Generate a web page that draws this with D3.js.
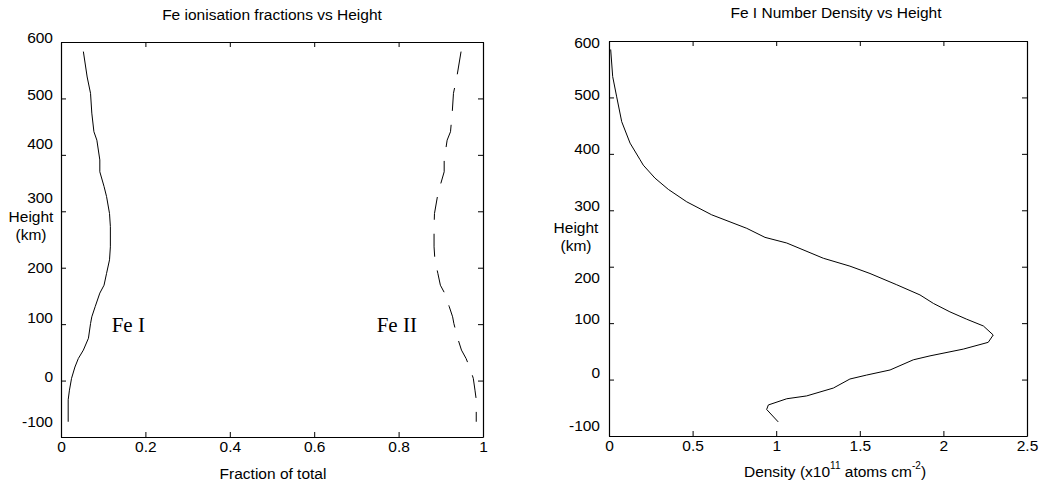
<!DOCTYPE html>
<html>
<head>
<meta charset="utf-8">
<script src="https://cdn.jsdelivr.net/npm/d3@7"></script>
<style>
  body { margin: 0; background: #fff; }
  svg { display: block; font-family: "Liberation Sans", Arial, sans-serif; }
</style>
</head>
<body>
<div id="wrapper"></div>
<script>
// heights (km) and ionisation fractions
const fracHeight = [583, 538, 509, 474, 441, 426, 391, 370, 344, 326, 296, 273, 237, 214, 190, 169, 155, 131, 113, 101, 75, 54, 39, 24, 4, -17, -34, -73];
const feIFraction = [0.053, 0.062, 0.070, 0.073, 0.078, 0.085, 0.092, 0.092, 0.102, 0.108, 0.115, 0.117, 0.117, 0.115, 0.108, 0.102, 0.092, 0.081, 0.073, 0.070, 0.065, 0.053, 0.041, 0.033, 0.025, 0.020, 0.017, 0.017];
const feIIFraction = [0.948, 0.938, 0.930, 0.927, 0.923, 0.915, 0.908, 0.908, 0.898, 0.892, 0.885, 0.884, 0.884, 0.886, 0.893, 0.899, 0.909, 0.920, 0.928, 0.931, 0.940, 0.949, 0.960, 0.968, 0.977, 0.981, 0.984, 0.984];

// Fe I number density (x10^11 atoms cm^-2) vs height
const densHeight = [585, 537, 501, 457, 419, 390, 380, 357, 337, 315, 292, 268, 252, 242, 215, 201, 188, 168, 150, 135, 120, 107, 95, 79, 66, 54, 42, 35, 17, 8, 1, -15, -29, -34, -45, -53, -75];
const densValue = [0.010, 0.022, 0.046, 0.076, 0.126, 0.185, 0.205, 0.275, 0.355, 0.465, 0.614, 0.824, 0.933, 1.063, 1.282, 1.441, 1.561, 1.721, 1.860, 1.940, 2.039, 2.139, 2.239, 2.298, 2.268, 2.119, 1.920, 1.820, 1.681, 1.541, 1.441, 1.342, 1.182, 1.063, 0.953, 0.943, 1.012];

const heightTicks = [-100, 0, 100, 200, 300, 400, 500, 600];
const fracTicks = [0, 0.2, 0.4, 0.6, 0.8, 1];
const densTicks = [0, 0.5, 1, 1.5, 2, 2.5];

const width = 1045;
const height = 486;
const fontSize = "15.5px";

const svg = d3
  .select("#wrapper")
  .append("svg")
  .attr("width", width)
  .attr("height", height);

// plain hyphen minus, like the original
const plain = (d) => String(d);

// the height labels in the original were placed by hand, not on the ticks
const drawPanel = (p) => {
  const xScale = d3.scaleLinear().domain(p.xDomain).range([p.left, p.right]);
  const yScale = d3.scaleLinear().domain([-100, 600]).range([p.bottom, p.top]);

  const g = svg.append("g");

  const styleAxis = (sel) => {
    sel.select(".domain").attr("stroke", "#000").attr("stroke-width", 1.2);
    sel.selectAll(".tick line").attr("stroke", "#000");
    sel.selectAll("text").style("font-size", fontSize).attr("fill", "#000");
  };

  g.append("g")
    .attr("transform", `translate(0,${p.bottom})`)
    .call(d3.axisBottom(xScale).tickValues(p.xTicks).tickSize(-5).tickSizeOuter(0).tickPadding(4).tickFormat(plain))
    .call(styleAxis);

  g.append("g")
    .attr("transform", `translate(0,${p.top})`)
    .call(d3.axisTop(xScale).tickValues(p.xTicks).tickSize(-5).tickSizeOuter(0).tickFormat(""))
    .call(styleAxis);

  g.append("g")
    .attr("transform", `translate(${p.right},0)`)
    .call(d3.axisRight(yScale).tickValues(heightTicks).tickSize(-5).tickSizeOuter(0).tickFormat(""))
    .call(styleAxis);

  const leftAxis = g
    .append("g")
    .attr("transform", `translate(${p.left},0)`)
    .call(d3.axisLeft(yScale).tickValues(heightTicks).tickSize(-5).tickSizeOuter(0).tickPadding(p.labelPad).tickFormat(plain))
    .call(styleAxis);

  leftAxis
    .selectAll(".tick text")
    .attr("y", (d) => p.labelNudge[d] || 0);

  g.append("text")
    .attr("x", p.heightLabelX)
    .attr("y", p.heightLabelY)
    .attr("text-anchor", "middle")
    .style("font-size", fontSize)
    .text("Height");

  g.append("text")
    .attr("x", p.heightLabelX)
    .attr("y", p.heightLabelY + 18)
    .attr("text-anchor", "middle")
    .style("font-size", fontSize)
    .text("(km)");

  g.append("text")
    .attr("x", p.titleX)
    .attr("y", p.titleY)
    .attr("text-anchor", "middle")
    .style("font-size", fontSize)
    .text(p.title);

  return { g, xScale, yScale };
};

const left = drawPanel({
  left: 61,
  right: 483,
  top: 42,
  bottom: 437,
  xDomain: [0, 1],
  xTicks: fracTicks,
  labelPad: 8,
  labelNudge: { 600: -4, 500: -4, 400: -11, 300: -14, 200: 0, 100: -7, 0: -4, "-100": -15 },
  heightLabelX: 31,
  heightLabelY: 222,
  title: "Fe ionisation fractions vs Height",
  titleX: 272,
  titleY: 20,
});

const right = drawPanel({
  left: 609,
  right: 1027,
  top: 41,
  bottom: 436,
  xDomain: [0, 2.5],
  xTicks: densTicks,
  labelPad: 9,
  labelNudge: { 600: 2, 500: -3, 400: -5, 300: -5, 200: 11, 100: -5, 0: -7, "-100": -10 },
  heightLabelX: 576,
  heightLabelY: 233,
  title: "Fe I Number Density vs Height",
  titleX: 836,
  titleY: 18,
});

const fracLine = (values) =>
  d3
    .line()
    .x((d, i) => left.xScale(values[i]))
    .y((d) => left.yScale(d))(fracHeight);

left.g
  .append("path")
  .attr("d", fracLine(feIFraction))
  .attr("fill", "none")
  .attr("stroke", "#000")
  .attr("stroke-width", 1);

left.g
  .append("path")
  .attr("d", fracLine(feIIFraction))
  .attr("fill", "none")
  .attr("stroke", "#000")
  .attr("stroke-width", 1)
  .attr("stroke-dasharray", "23,14");

left.g
  .append("text")
  .attr("x", left.xScale(0.12))
  .attr("y", left.yScale(86))
  .style("font-family", '"Liberation Serif", "Times New Roman", serif')
  .style("font-size", "21px")
  .text("Fe I");

left.g
  .append("text")
  .attr("x", left.xScale(0.748))
  .attr("y", left.yScale(86))
  .style("font-family", '"Liberation Serif", "Times New Roman", serif')
  .style("font-size", "21px")
  .text("Fe II");

left.g
  .append("text")
  .attr("x", 273)
  .attr("y", 479)
  .attr("text-anchor", "middle")
  .style("font-size", fontSize)
  .text("Fraction of total");

right.g
  .append("path")
  .attr(
    "d",
    d3
      .line()
      .x((d, i) => right.xScale(densValue[i]))
      .y((d) => right.yScale(d))(densHeight)
  )
  .attr("fill", "none")
  .attr("stroke", "#000")
  .attr("stroke-width", 1);

const densLabel = right.g
  .append("text")
  .attr("x", 835)
  .attr("y", 477)
  .attr("text-anchor", "middle")
  .style("font-size", fontSize);

densLabel.append("tspan").text("Density (x10");
densLabel.append("tspan").attr("dy", -8).style("font-size", "10px").text("11");
densLabel.append("tspan").attr("dy", 8).text(" atoms cm");
densLabel.append("tspan").attr("dy", -8).style("font-size", "10px").text("-2");
densLabel.append("tspan").attr("dy", 8).text(")");
</script>
</body>
</html>
